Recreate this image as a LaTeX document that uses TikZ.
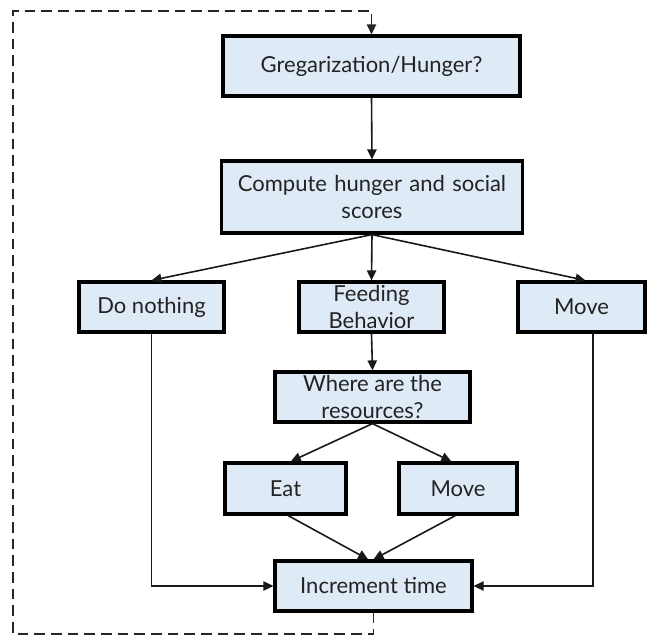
\documentclass[tikz,border=0pt]{standalone}
\usepackage{fontspec}
\setmainfont{Lato}
\usetikzlibrary{arrows.meta}
\definecolor{boxfill}{RGB}{222,234,246}
\definecolor{txt}{RGB}{35,35,35}
\tikzset{
  box/.style={draw=black, line width=2.4pt, fill=boxfill, rectangle, inner sep=0pt,
    align=center, text=txt, font=\fontsize{16.5pt}{20pt}\selectfont},
  conn/.style={draw=black!90, line width=1.2pt, -{Triangle[length=7.5pt,width=7pt]}},
  loopline/.style={draw=black!85, line width=1.2pt, dash pattern=on 8pt off 4.5pt,
    -{Triangle[length=7.5pt,width=7pt]}}
}
\begin{document}
\begin{tikzpicture}[x=0.75pt,y=-0.75pt]
\useasboundingbox (0,0) rectangle (654,636);
\node[box, minimum width=222.75pt, minimum height=45pt] (greg) at (371.5,66) {Gregarization/Hunger?};
\node[box, minimum width=225.75pt, minimum height=54pt, text width=215pt] (comp) at (372,197) {Compute hunger and social\\scores};
\node[box, minimum width=108.75pt, minimum height=37.5pt] (nothing) at (151.5,307) {Do nothing};
\node[box, minimum width=108.75pt, minimum height=37.5pt] (feed) at (371.5,307) {Feeding\\Behavior};
\node[box, minimum width=95.25pt, minimum height=37.5pt] (move) at (581.5,307) {Move};
\node[box, minimum width=146.25pt, minimum height=37.5pt] (where) at (372.5,397) {Where are the\\resources?};
\node[box, minimum width=90.75pt, minimum height=38.25pt] (eat) at (285.5,488.5) {Eat};
\node[box, minimum width=88.5pt, minimum height=38.25pt] (move2) at (458,488.5) {Move};
\node[box, minimum width=147.75pt, minimum height=37.5pt] (inc) at (373.5,586) {Increment time};
\coordinate (dbl) at (13,634);
\coordinate (dtl) at (13,11);
\draw[conn] (greg.south) -- (comp.north);
\draw[conn] (comp.south) -- (nothing.north);
\draw[conn] (comp.south) -- (feed.north);
\draw[conn] (comp.south) -- ([xshift=3pt]move.north);
\draw[conn] (feed.south) -- (where.north);
\draw[conn] (where.south) -- ([xshift=4pt]eat.north);
\draw[conn] (where.south) -- ([xshift=-5pt]move2.north);
\draw[conn] ([xshift=2pt]eat.south) -- ([xshift=-4pt]inc.north);
\draw[conn] ([xshift=-2pt]move2.south) -- (inc.north);
\draw[conn] (nothing.south) |- (inc.west);
\draw[conn] ([xshift=8.5pt]move.south) |- (inc.east);
\draw[loopline] (inc.south) |- (dbl) -- (dtl) -| (greg.north);
\end{tikzpicture}
\end{document}
